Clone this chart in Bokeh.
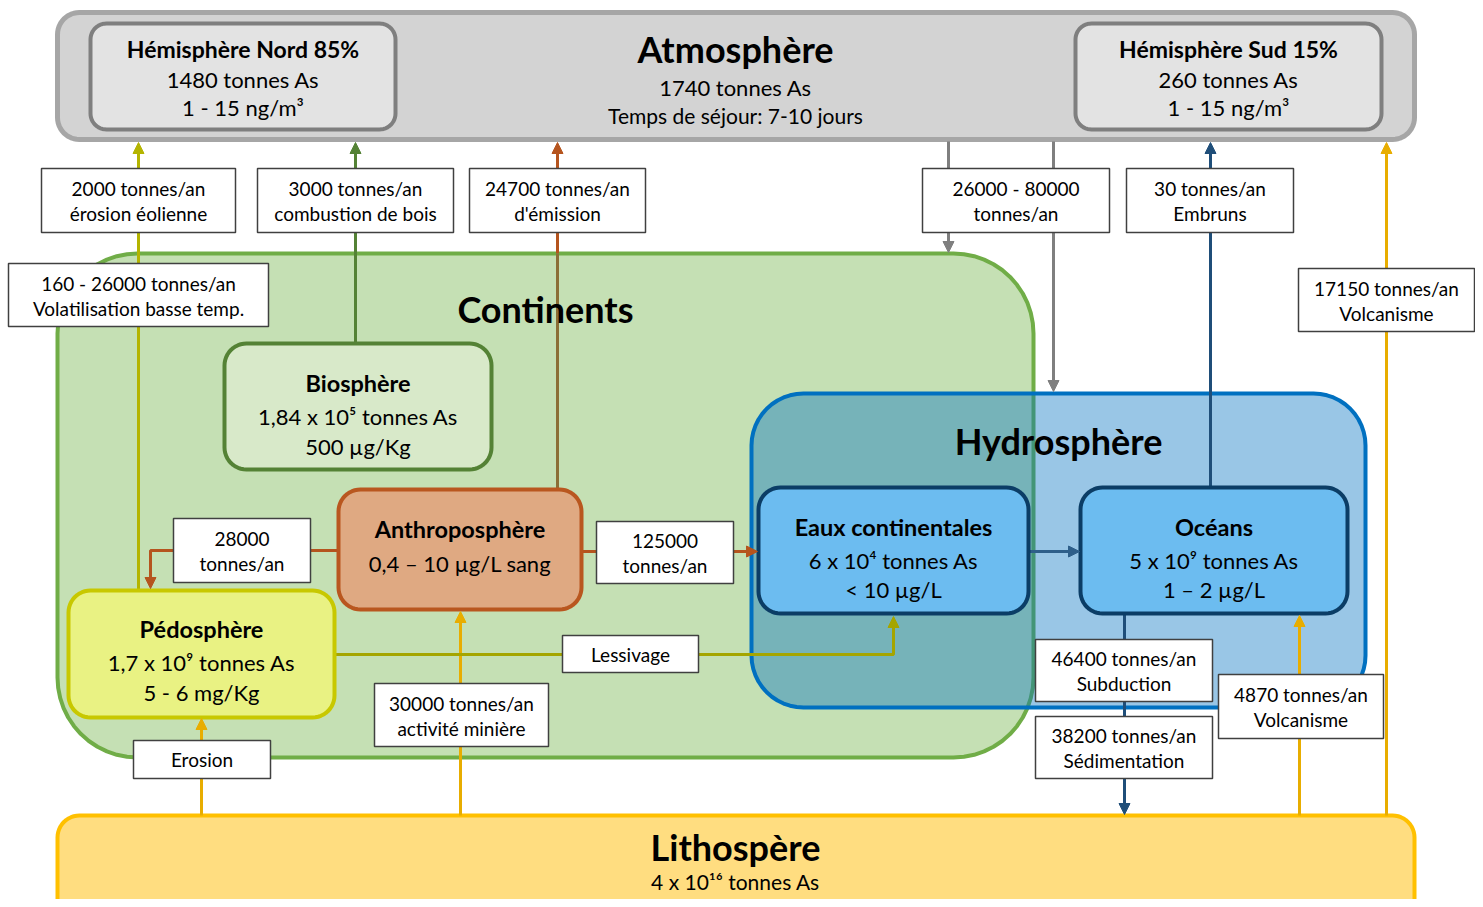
import math
from bokeh.plotting import figure
from bokeh.models import Range1d, Arrow, NormalHead
from bokeh.core.properties import value
from bokeh.embed import file_html
from bokeh.resources import INLINE

# ---------------- data (texts / values) ----------------
atmo_title = "Atmosphère"
atmo_lines = ["1740 tonnes As", "Temps de séjour: 7-10 jours"]
hemi_titles = ["Hémisphère Nord 85%", "Hémisphère Sud 15%"]
hemi_amounts = ["1480 tonnes As", "260 tonnes As"]
hemi_conc = ["1 - 15 ng/m³", "1 - 15 ng/m³"]

group_titles = ["Continents", "Hydrosphère"]

res_titles = ["Biosphère", "Anthroposphère", "Pédosphère", "Eaux continentales", "Océans"]
res_amounts = ["1,84 x 10⁵ tonnes As", "0,4 – 10 µg/L sang", "1,7 x 10⁹ tonnes As",
               "6 x 10⁴ tonnes As", "5 x 10⁹ tonnes As"]
res_conc = ["500 µg/Kg", "", "5 - 6 mg/Kg", "< 10 µg/L", "1 – 2 µg/L"]

litho_title = "Lithospère"
litho_amount = "4 x 10¹⁶ tonnes As"

flux_line1 = ["2000 tonnes/an", "3000 tonnes/an", "24700 tonnes/an", "26000 - 80000",
              "30 tonnes/an", "160 - 26000 tonnes/an", "17150 tonnes/an", "28000",
              "125000", "Lessivage", "30000 tonnes/an", "Erosion",
              "46400 tonnes/an", "38200 tonnes/an", "4870 tonnes/an"]
flux_line2 = ["érosion éolienne", "combustion de bois", "d'émission", "tonnes/an",
              "Embruns", "Volatilisation basse temp.", "Volcanisme", "tonnes/an",
              "tonnes/an", "", "activité minière", "",
              "Subduction", "Sédimentation", "Volcanisme"]

# ---------------- layout (pixel geometry) ----------------
W, H = 1475, 899
FONT = value("Lato")

p = figure(width=W, height=H, x_range=Range1d(0, W), y_range=Range1d(H, 0),
           output_backend="svg", toolbar_location=None, min_border=0,
           x_axis_location=None, y_axis_location=None)
p.grid.visible = False
p.outline_line_color = None


def rrect(x0, y0, x1, y1, r, n=12):
    xs, ys = [], []
    corners = [(x1 - r, y0 + r, -90, 0), (x1 - r, y1 - r, 0, 90),
               (x0 + r, y1 - r, 90, 180), (x0 + r, y0 + r, 180, 270)]
    for cx, cy, a0, a1 in corners:
        for i in range(n + 1):
            a = math.radians(a0 + (a1 - a0) * i / n)
            xs.append(cx + r * math.cos(a))
            ys.append(cy + r * math.sin(a))
    return xs, ys


def box(x0, y0, x1, y1, r, fill, line, lw, alpha=1.0):
    xs, ys = rrect(x0, y0, x1, y1, r)
    p.patch(xs, ys, fill_color=fill, fill_alpha=alpha, line_color=line, line_width=lw)


def txt(x, y, s, size, bold=False, color="black"):
    p.text([x], [y], text=[s], text_font=FONT, text_font_size=f"{size}px",
           text_font_style="bold" if bold else "normal", text_align="center",
           text_baseline="middle", text_color=color)


# big containers
box(57, 12, 1414, 139, 22, "#d3d3d3", "#a6a6a6", 5)
box(57, 815, 1414, 940, 22, "#ffdd80", "#ffc000", 4)
box(57, 253, 1033, 757, 80, "#c5e0b4", "#70ad47", 4)
box(751, 393, 1365, 707, 52, "#0070c0", None, 0, alpha=0.4)
xs_h, ys_h = rrect(751, 393, 1365, 707, 52)
p.patch(xs_h, ys_h, fill_alpha=0, line_color="#0070c0", line_width=4)

# hemisphere boxes
hemi_geom = [(90, 23, 395, 129), (1075, 23, 1381, 129)]
for (x0, y0, x1, y1) in hemi_geom:
    box(x0, y0, x1, y1, 16, "#e3e3e3", "#7f7f7f", 4)

# flux lines  (polyline xs, ys, color)
lines = [
    ([138, 138], [590, 146], "#b4b400"),
    ([355, 355], [343, 146], "#548235"),
    ([557, 557], [253, 146], "#b5541e"),
    ([557, 557], [489, 253], "#8b6e36"),
    ([948, 948], [141, 248], "#7f7f7f"),
    ([1053, 1053], [141, 387], "#7f7f7f"),
    ([1210, 1210], [487, 146], "#1f4e79"),
    ([1386, 1386], [815, 146], "#e8ad00"),
    ([1299, 1299], [815, 620], "#e8ad00"),
    ([460, 460], [815, 616], "#e8ad00"),
    ([201, 201], [815, 722], "#e8ad00"),
    ([1124, 1124], [613, 810], "#1f4e79"),
    ([338, 150, 150], [550, 550, 584], "#b5541e"),
    ([581, 753], [551, 551], "#b5541e"),
    ([1028, 1075], [551, 551], "#2e5f8a"),
    ([334, 893, 893], [654, 654, 621], "#a5a500"),
]
p.multi_line([l[0] for l in lines], [l[1] for l in lines],
             line_color=[l[2] for l in lines], line_width=3)

# arrow heads (x_start, y_start, x_end, y_end, color)
heads = [
    (138, 150, 138, 142, "#b4b400"),
    (355, 150, 355, 142, "#548235"),
    (557, 150, 557, 142, "#b5541e"),
    (948, 244, 948, 252, "#7f7f7f"),
    (1053, 383, 1053, 391, "#7f7f7f"),
    (1210, 150, 1210, 142, "#1f4e79"),
    (1386, 150, 1386, 142, "#e8ad00"),
    (1299, 624, 1299, 615, "#e8ad00"),
    (460, 620, 460, 611, "#e8ad00"),
    (201, 726, 201, 718, "#e8ad00"),
    (1124, 806, 1124, 814, "#1f4e79"),
    (150, 580, 150, 588, "#b5541e"),
    (749, 551, 757, 551, "#b5541e"),
    (1071, 551, 1079, 551, "#2e5f8a"),
    (893, 625, 893, 616, "#a5a500"),
]
for xs0, ys0, xe, ye, c in heads:
    p.add_layout(Arrow(x_start=xs0, y_start=ys0, x_end=xe, y_end=ye, line_color=c,
                       line_width=3, line_alpha=0,
                       end=NormalHead(size=11, fill_color=c, line_color=c, line_width=1)))

# reservoir boxes
res_geom = [(224, 343, 491, 469), (338, 489, 581, 609), (68, 590, 334, 717),
            (758, 487, 1028, 613), (1080, 487, 1347, 613)]
res_fill = ["#d8e9c9", "#dfa982", "#e9f283", "#6cbcf0", "#6cbcf0"]
res_line = ["#548235", "#b9571f", "#c8c800", "#0b3d66", "#0b3d66"]
res_text_y = [(382, 416, 446), (528, 563, None), (628, 662, 692),
              (526, 560, 589), (526, 560, 589)]
for i, (x0, y0, x1, y1) in enumerate(res_geom):
    box(x0, y0, x1, y1, 22, res_fill[i], res_line[i], 4)

# flux label boxes
flux_geom = [(41, 168, 235, 232), (257, 168, 453, 232), (469, 168, 645, 232),
             (922, 168, 1109, 232), (1126, 168, 1293, 232), (8, 263, 268, 326),
             (1298, 268, 1474, 331), (173, 518, 310, 582), (596, 521, 733, 583),
             (562, 635, 698, 672), (374, 683, 548, 746), (133, 740, 270, 778),
             (1035, 639, 1212, 701), (1035, 716, 1212, 778), (1218, 674, 1383, 738)]
p.quad(left=[g[0] for g in flux_geom], right=[g[2] for g in flux_geom],
       top=[g[1] for g in flux_geom], bottom=[g[3] for g in flux_geom],
       fill_color="white", line_color="#404040", line_width=1.5)

# ---------------- texts ----------------
txt(735, 48, atmo_title, 36, True)
txt(735, 87, atmo_lines[0], 22)
txt(735, 115, atmo_lines[1], 21)
for i, (x0, y0, x1, y1) in enumerate(hemi_geom):
    cx = (x0 + x1) / 2
    txt(cx, 48, hemi_titles[i], 23, True)
    txt(cx, 79, hemi_amounts[i], 22)
    txt(cx, 107, hemi_conc[i], 22)

txt(545, 308, group_titles[0], 36, True)
txt(1058, 440, group_titles[1], 36, True)

for i, (x0, y0, x1, y1) in enumerate(res_geom):
    cx = (x0 + x1) / 2
    ty = res_text_y[i]
    txt(cx, ty[0], res_titles[i], 23.5, True)
    txt(cx, ty[1], res_amounts[i], 22)
    if ty[2] is not None and res_conc[i]:
        txt(cx, ty[2], res_conc[i], 22)

txt(735, 846, litho_title, 36, True)
txt(735, 881, litho_amount, 21)

for i, (x0, y0, x1, y1) in enumerate(flux_geom):
    cx = (x0 + x1) / 2
    cy = (y0 + y1) / 2
    if flux_line2[i]:
        txt(cx, cy - 12, flux_line1[i], 19)
        txt(cx, cy + 13, flux_line2[i], 19)
    else:
        txt(cx, cy, flux_line1[i], 19)

open("out.html", "w").write(file_html(p, INLINE))
